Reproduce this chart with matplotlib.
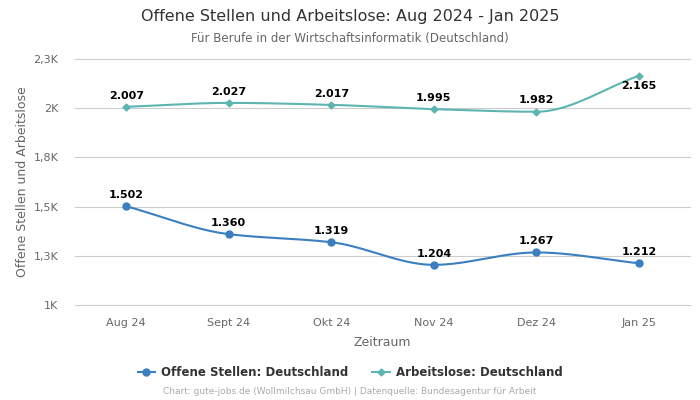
import numpy as np
import matplotlib.pyplot as plt

months = ["Aug 24", "Sept 24", "Okt 24", "Nov 24", "Dez 24", "Jan 25"]
offene = [1502, 1360, 1319, 1204, 1267, 1212]
arbeitslose = [2007, 2027, 2017, 1995, 1982, 2165]
yticks = [1000, 1250, 1500, 1750, 2000, 2250]
ytick_labels = ["1K", "1,3K", "1,5K", "1,8K", "2K", "2,3K"]

BLUE = "#3a7fbf"
TEAL = "#5cb5b1"


def pchip(x, y, n=40):
    # monotone cubic curve through the points, for drawing only
    x = np.asarray(x, float)
    y = np.asarray(y, float)
    h = np.diff(x)
    d = np.diff(y) / h
    m = np.zeros_like(y)
    for i in range(1, len(y) - 1):
        if d[i - 1] * d[i] > 0:
            w1 = 2 * h[i] + h[i - 1]
            w2 = h[i] + 2 * h[i - 1]
            m[i] = (w1 + w2) / (w1 / d[i - 1] + w2 / d[i])
    m[0] = d[0]
    m[-1] = d[-1]
    xs, ys = [], []
    for i in range(len(h)):
        t = np.linspace(0, 1, n)
        h00 = 2 * t**3 - 3 * t**2 + 1
        h10 = t**3 - 2 * t**2 + t
        h01 = -2 * t**3 + 3 * t**2
        h11 = t**3 - t**2
        xs.append(x[i] + t * h[i])
        ys.append(h00 * y[i] + h10 * h[i] * m[i] + h01 * y[i + 1] + h11 * h[i] * m[i + 1])
    return np.concatenate(xs), np.concatenate(ys)


def fmt(v):
    return f"{v:,}".replace(",", ".")


def main():
    fig = plt.figure(figsize=(7, 4), dpi=100)
    ax = fig.add_axes([0.107, 0.2375, 0.879, 0.615])
    x = np.arange(len(months))

    sx, sy = pchip(x, offene)
    ax.plot(sx, sy, color=BLUE, lw=1.5, zorder=3)
    ax.plot(x, offene, "o", color=BLUE, ms=5, zorder=4)
    sx, sy = pchip(x, arbeitslose)
    ax.plot(sx, sy, color=TEAL, lw=1.5, zorder=3)
    ax.plot(x, arbeitslose, "D", color=TEAL, ms=3.5, zorder=4)

    for i, v in enumerate(offene):
        ax.annotate(fmt(v), (i, v), xytext=(0, 4.5), textcoords="offset points",
                    ha="center", va="bottom", fontsize=8, fontweight="bold", color="black")
    for i, v in enumerate(arbeitslose):
        if i == len(arbeitslose) - 1:
            ax.annotate(fmt(v), (i, v), xytext=(0, -4), textcoords="offset points",
                        ha="center", va="top", fontsize=8, fontweight="bold", color="black")
        else:
            ax.annotate(fmt(v), (i, v), xytext=(0, 4.5), textcoords="offset points",
                        ha="center", va="bottom", fontsize=8, fontweight="bold", color="black")

    ax.set_xlim(-0.5, len(months) - 0.5)
    ax.set_ylim(1000, 2250)
    ax.set_yticks(yticks)
    ax.set_yticklabels(ytick_labels)
    ax.set_xticks(x)
    ax.set_xticklabels(months)
    ax.tick_params(axis="both", length=0, labelsize=8, colors="#666666")
    ax.tick_params(axis="y", pad=12)
    ax.tick_params(axis="x", pad=9)
    ax.grid(axis="y", color="#cccccc", lw=0.8)
    for gl in ax.get_ygridlines():
        gl.set_clip_on(False)
    ax.set_axisbelow(True)
    for s in ax.spines.values():
        s.set_visible(False)
    ax.set_xlabel("Zeitraum", fontsize=9, color="#666666", labelpad=6)
    ax.set_ylabel("Offene Stellen und Arbeitslose", fontsize=9, color="#666666", labelpad=3)

    fig.text(0.5, 0.958, "Offene Stellen und Arbeitslose: Aug 2024 - Jan 2025",
             ha="center", va="center", fontsize=11.5, color="#333333")
    fig.text(0.5, 0.903, "Für Berufe in der Wirtschaftsinformatik (Deutschland)",
             ha="center", va="center", fontsize=8.5, color="#666666")

    h1, = ax.plot([], [], "-o", color=BLUE, ms=5, lw=1.5)
    h2, = ax.plot([], [], "-D", color=TEAL, ms=3.5, lw=1.5)
    fig.legend([h1, h2], ["Offene Stellen: Deutschland", "Arbeitslose: Deutschland"],
               loc="center", bbox_to_anchor=(0.5, 0.068), ncol=2, frameon=False,
               prop={"size": 8.5, "weight": "bold"}, labelcolor="#333333",
               handlelength=1.5, columnspacing=2, handletextpad=0.5)
    fig.text(0.5, 0.02, "Chart: gute-jobs.de (Wollmilchsau GmbH) | Datenquelle: Bundesagentur für Arbeit",
             ha="center", va="center", fontsize=6.5, color="#aaaaaa")

    fig.savefig("out.png", dpi=100)


if __name__ == "__main__":
    main()
